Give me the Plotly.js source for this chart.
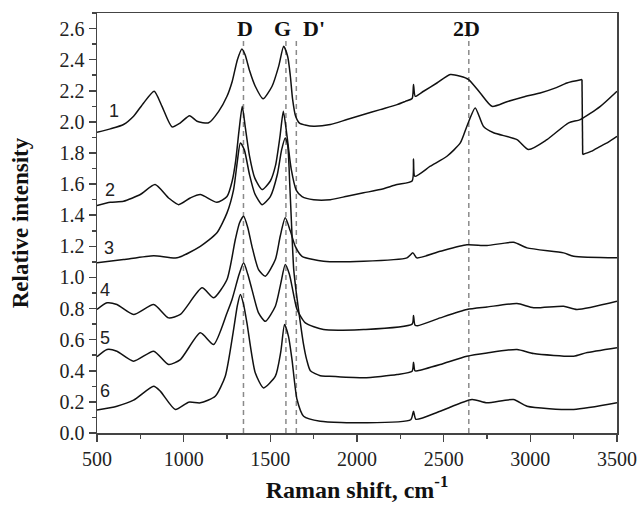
<!DOCTYPE html>
<html>
<head>
<meta charset="utf-8">
<script src="https://cdn.plot.ly/plotly-3.0.1.min.js"></script>
<style>html,body{margin:0;padding:0;background:#fff;}#chart{width:640px;height:510px;}</style>
</head>
<body>
<div id="chart"></div>
<script>
// Spectrum 1
const x1 = [500,577,653,711,769,830,875,933,981,1034,1077,1144,1202,1250,1280,1310,1336,1355,1380,1413,1458,1510,1548,1577,1600,1615,1628,1645,1670,1700,1750,1846,1942,2038,2134,2231,2279,2318,2326,2336,2384,2461,2538,2596,2644,2711,2779,2865,2960,3057,3150,3211,3298,3302,3350,3404,3450,3500];
const y1 = [1.933,1.955,1.983,2.036,2.122,2.197,2.10,1.968,1.994,2.04,2.004,1.994,2.068,2.165,2.26,2.40,2.469,2.43,2.33,2.229,2.148,2.229,2.357,2.486,2.42,2.30,2.15,2.04,1.99,1.98,1.972,1.983,2.015,2.047,2.079,2.111,2.132,2.15,2.24,2.164,2.197,2.25,2.304,2.293,2.272,2.186,2.10,2.13,2.16,2.186,2.22,2.25,2.272,1.79,1.81,1.843,1.87,1.907];
// Spectrum 2
const x2 = [500,577,653,750,835,913,971,1038,1096,1192,1250,1280,1300,1320,1338,1355,1380,1410,1452,1500,1530,1555,1575,1595,1620,1650,1683,1750,1846,1942,2038,2134,2231,2318,2326,2334,2423,2519,2596,2634,2682,2730,2788,2923,2990,3096,3221,3288,3404,3500];
const y2 = [1.462,1.483,1.49,1.533,1.597,1.511,1.468,1.511,1.533,1.483,1.52,1.62,1.75,1.95,2.10,1.97,1.78,1.64,1.565,1.62,1.72,1.90,2.068,1.92,1.70,1.56,1.52,1.50,1.50,1.522,1.544,1.565,1.597,1.62,1.762,1.65,1.715,1.779,1.865,1.972,2.09,1.97,1.93,1.886,1.822,1.886,1.994,2.015,2.10,2.197];
// Spectrum 3
const x3 = [500,653,827,962,1096,1192,1250,1288,1310,1327,1350,1380,1410,1452,1500,1540,1565,1586,1600,1612,1622,1635,1650,1663,1690,1710,1731,1788,1827,2038,2231,2318,2326,2334,2350,2480,2634,2750,2923,3019,3250,3320,3500];
const y3 = [1.094,1.115,1.14,1.126,1.20,1.287,1.415,1.565,1.75,1.865,1.82,1.66,1.54,1.468,1.52,1.66,1.82,1.897,1.85,1.60,1.35,1.05,0.90,0.79,0.58,0.47,0.40,0.368,0.365,0.355,0.376,0.397,0.455,0.40,0.40,0.44,0.494,0.515,0.537,0.511,0.494,0.515,0.548];
// Spectrum 4
const x4 = [500,558,615,711,827,913,981,1106,1173,1250,1298,1322,1346,1370,1394,1432,1471,1529,1557,1586,1615,1644,1683,1807,2038,2288,2323,2345,2480,2634,2750,2903,2981,3192,3250,3500];
const y4 = [0.794,0.837,0.826,0.762,0.826,0.74,0.762,0.933,0.869,0.987,1.244,1.35,1.393,1.32,1.20,1.05,1.008,1.115,1.265,1.383,1.30,1.20,1.136,1.104,1.104,1.126,1.158,1.126,1.168,1.21,1.205,1.226,1.19,1.158,1.136,1.126];
// Spectrum 5
const x5 = [500,558,615,711,827,913,981,1096,1173,1250,1279,1320,1346,1370,1394,1432,1471,1529,1560,1586,1610,1625,1654,1702,1807,2038,2318,2326,2334,2350,2480,2634,2750,2923,3019,3192,3269,3500];
const y5 = [0.49,0.537,0.526,0.462,0.526,0.44,0.472,0.644,0.569,0.772,0.858,1.02,1.094,1.02,0.922,0.772,0.718,0.815,0.96,1.083,1.02,0.943,0.794,0.708,0.665,0.665,0.70,0.755,0.695,0.69,0.74,0.794,0.81,0.832,0.805,0.815,0.794,0.847];
// Spectrum 6
const x6 = [500,615,711,827,865,952,1029,1096,1182,1240,1288,1310,1327,1345,1365,1413,1461,1529,1560,1582,1605,1625,1654,1692,1788,2038,2310,2326,2340,2480,2663,2750,2903,2981,3250,3500];
const y6 = [0.147,0.172,0.211,0.30,0.269,0.151,0.198,0.194,0.236,0.365,0.665,0.82,0.89,0.83,0.708,0.387,0.29,0.365,0.52,0.697,0.62,0.472,0.215,0.108,0.076,0.066,0.085,0.14,0.088,0.14,0.215,0.194,0.215,0.172,0.151,0.194];

const seriesX = [x1,x2,x3,x4,x5,x6];
const seriesY = [y1,y2,y3,y4,y5,y6];
const curveLabels = ["1","2","3","4","5","6"];
const curveLabelX = [596,577,567,545,545,545];
const curveLabelY = [2.07,1.565,1.19,0.92,0.61,0.27];

const peakNames = ["D","G","D'","2D"];
const peakPos = [1345,1590,1650,2645];
const peakLabelX = [1352,1572,1750,2634];
const peakLineTop = [2.54,2.54,2.53,2.57];

const xTicks = [500,1000,1500,2000,2500,3000,3500];

const lineStyle = {color:'#111', width:1.5, shape:'spline', smoothing:0.6};
const traces = [];
seriesX.forEach((xs,i)=>{
  const ys = seriesY[i];
  // split at any abrupt step (vertical drop) so the smoothing does not overshoot
  let cut = -1;
  for (let k=1;k<xs.length;k++){ if (xs[k]-xs[k-1] < 6 && Math.abs(ys[k]-ys[k-1])>0.3) cut = k; }
  if (cut>0){
    traces.push({x:xs.slice(0,cut), y:ys.slice(0,cut), type:'scatter', mode:'lines', line:lineStyle, showlegend:false, hoverinfo:'skip'});
    traces.push({x:xs.slice(cut-1,cut+1), y:ys.slice(cut-1,cut+1), type:'scatter', mode:'lines', line:{color:'#111', width:1.5}, showlegend:false, hoverinfo:'skip'});
    traces.push({x:xs.slice(cut), y:ys.slice(cut), type:'scatter', mode:'lines', line:lineStyle, showlegend:false, hoverinfo:'skip'});
  } else {
    traces.push({x:xs, y:ys, type:'scatter', mode:'lines', line:lineStyle, showlegend:false, hoverinfo:'skip'});
  }
});

const shapes = peakPos.map((p,i)=>({
  type:'line', xref:'x', yref:'y', x0:p, x1:p, y0:0, y1:peakLineTop[i],
  line:{color:'#8a8a8a', width:1.5, dash:'5px,4px'}, layer:'below'
}));

const annotations = [];
curveLabels.forEach((t,i)=>annotations.push({
  x: curveLabelX[i], y: curveLabelY[i], xref:'x', yref:'y', text:t, showarrow:false,
  font:{family:'Liberation Sans, Arial, sans-serif', size:18, color:'#222'}
}));
peakNames.forEach((t,i)=>annotations.push({
  x: peakLabelX[i], y: 2.60, xref:'x', yref:'y', text:'<b>'+t+'</b>', showarrow:false,
  font:{family:'Liberation Serif, Times New Roman, serif', size:22, color:'#111'}
}));

const layout = {
  width:640, height:510,
  margin:{l:97, r:23, t:13, b:77},
  paper_bgcolor:'#fff', plot_bgcolor:'#fff',
  font:{family:'Liberation Serif, Times New Roman, serif', color:'#222'},
  xaxis:{
    range:[500,3500], tickvals:xTicks, ticks:'outside', ticklen:7, tickwidth:1.5, tickcolor:'#444',
    showline:true, linecolor:'#444', linewidth:1.5, mirror:true, showgrid:false, zeroline:false,
    tickfont:{size:20, family:'Liberation Serif, Times New Roman, serif', color:'#222'},
    minor:{dtick:250, ticks:'outside', ticklen:4, tickwidth:1.5, tickcolor:'#444', showgrid:false},
    title:{text:'<b>Raman shift, cm<sup>-1</sup></b>', standoff:12,
      font:{size:24, family:'Liberation Serif, Times New Roman, serif', color:'#111'}}
  },
  yaxis:{
    range:[0,2.7], dtick:0.2, tick0:0, tickformat:'.1f', ticks:'outside', ticklen:7, tickwidth:1.5, tickcolor:'#444',
    showline:true, linecolor:'#444', linewidth:1.5, mirror:true, showgrid:false, zeroline:false,
    tickfont:{size:20, family:'Liberation Serif, Times New Roman, serif', color:'#222'},
    minor:{dtick:0.1, ticks:'outside', ticklen:4, tickwidth:1.5, tickcolor:'#444', showgrid:false},
    title:{text:'<b>Relative intensity</b>', standoff:24,
      font:{size:23, family:'Liberation Serif, Times New Roman, serif', color:'#111'}}
  },
  shapes: shapes,
  annotations: annotations
};

Plotly.newPlot('chart', traces, layout, {staticPlot:true, displayModeBar:false});
</script>
</body>
</html>
